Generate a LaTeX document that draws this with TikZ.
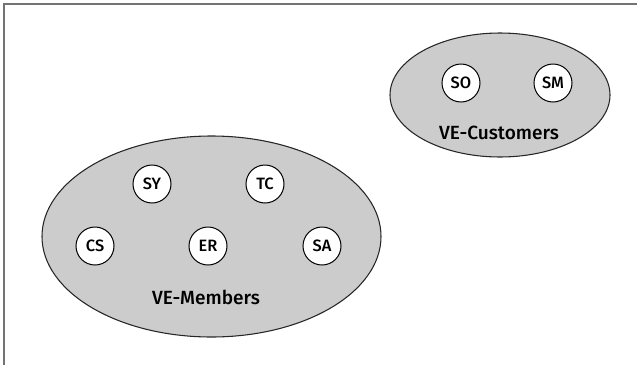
\documentclass[tikz,border=0pt]{standalone}
\usepackage{fontspec}
\setmainfont{Fira Sans Medium}
\usetikzlibrary{positioning, shapes}
\tikzstyle{groupEllipse} = [
    ellipse,
    draw=black!85,
    fill=black!20,
    inner sep=0pt,
    line width=0.8pt
    ]
\tikzstyle{memberCircle} = [
    circle,
    draw,
    fill=white,
    inner sep=0pt,
    minimum size=28.5pt,
    line width=0.75pt,
    font=\fontsize{12.3}{14}\selectfont
    ]
\tikzstyle{groupLabel} = [
    font=\fontsize{14.3}{17}\selectfont
    ]

\begin{document}
\begin{tikzpicture}[x=0.75pt, y=-0.75pt]
      \useasboundingbox (0,0) rectangle (637,365);
      \draw[line width=1.1pt, black!55] (637,4) -- (4,4) -- (4,365);
      % groups
      \node[groupEllipse, minimum width=254.25pt, minimum height=150.75pt] at (211.5,236.5) (members) {};
      \node[groupEllipse, minimum width=165pt, minimum height=93pt] at (500,95) (customers) {};
      % customers
      \node[memberCircle] at (461,83) (so) {SO};
      \node[memberCircle] at (553,83) (sm) {SM};
      \node[groupLabel] at (499,133) (customersLabel) {VE-Customers};
      % members
      \node[memberCircle] at (152,184) (sy) {SY};
      \node[memberCircle] at (265,184) (tc) {TC};
      \node[memberCircle] at (95,246) (cs) {CS};
      \node[memberCircle] at (208,246) (er) {ER};
      \node[memberCircle] at (322,246) (sa) {SA};
      \node[groupLabel] at (206,297) (membersLabel) {VE-Members};
    \end{tikzpicture}
\end{document}
